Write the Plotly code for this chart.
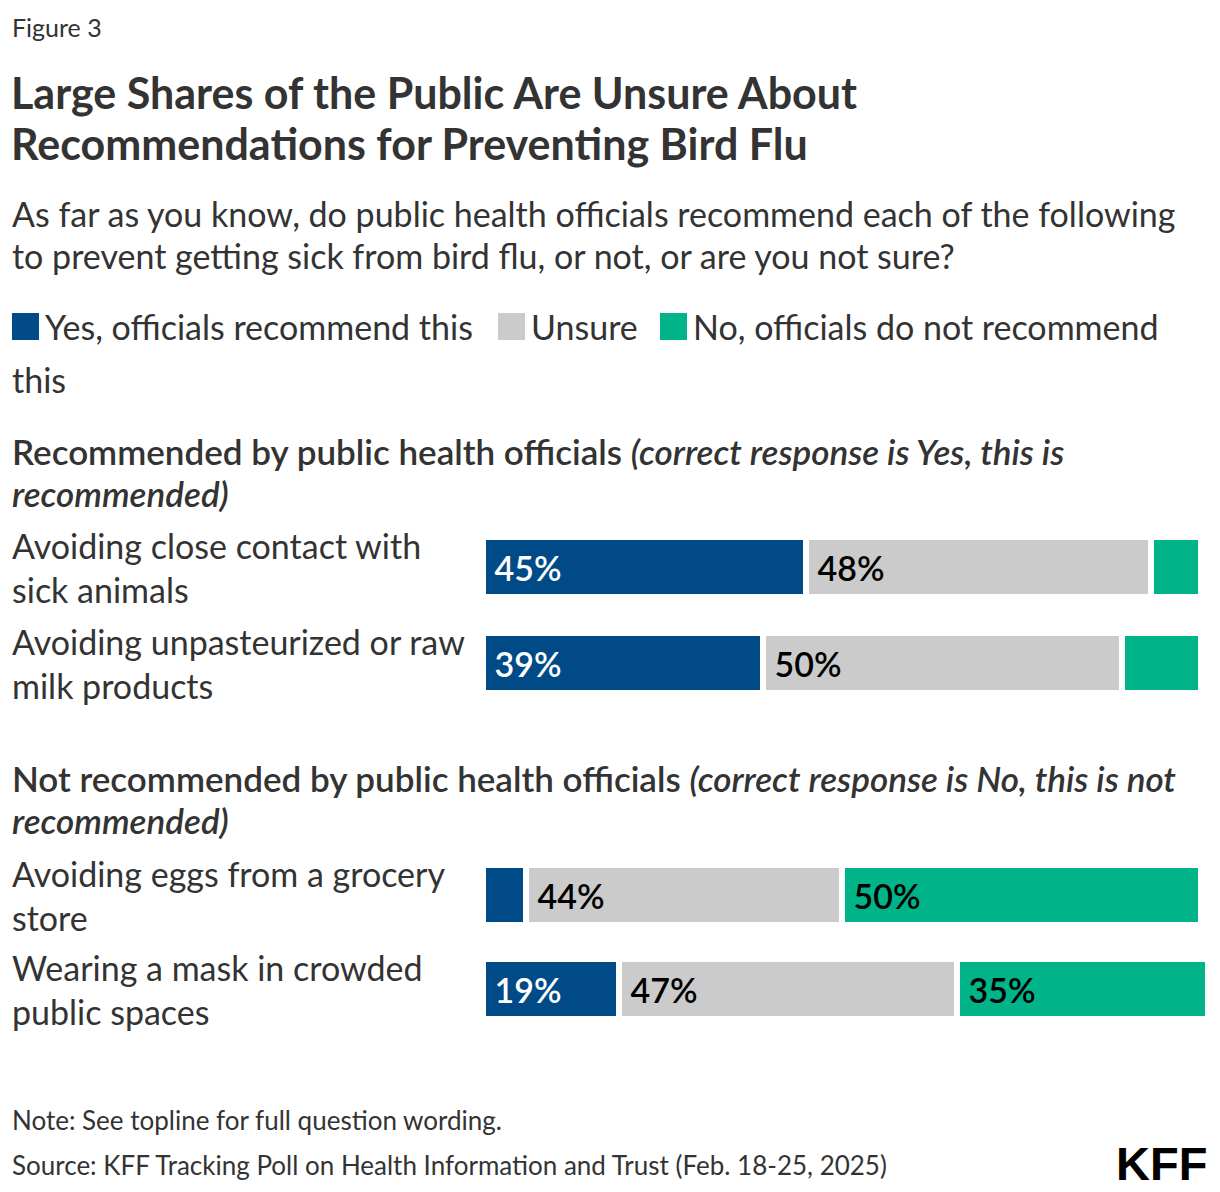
import plotly.graph_objects as go

W, H = 1220, 1192
FONT = "Lato"
TXT = "#333333"

# ---------------- data ----------------
series_names = ["Yes, officials recommend this", "Unsure", "No, officials do not recommend this"]
series_colors = ["#004A87", "#CBCBCB", "#00B388"]
label_colors = ["#FFFFFF", "#000000", "#000000"]

cats_rec = ["Avoiding close contact with<br>sick animals",
            "Avoiding unpasteurized or raw<br>milk products"]
yes_rec = [45, 39]
unsure_rec = [48, 50]
no_rec = [7, 11]

cats_not = ["Avoiding eggs from a grocery<br>store",
            "Wearing a mask in crowded<br>public spaces"]
yes_not = [6, 19]
unsure_not = [44, 47]
no_not = [50, 35]

header_rec = ["Recommended by public health officials <i>(correct response is Yes, this is</i>",
              "<i>recommended)</i>"]
header_not = ["Not recommended by public health officials <i>(correct response is No, this is not</i>",
              "<i>recommended)</i>"]

title_lines = ["<b>Large Shares of the Public Are Unsure About</b>",
               "<b>Recommendations for Preventing Bird Flu</b>"]
subtitle_lines = ["As far as you know, do public health officials recommend each of the following",
                  "to prevent getting sick from bird flu, or not, or are you not sure?"]
note = "Note: See topline for full question wording."
source = "Source: KFF Tracking Poll on Health Information and Trust (Feb. 18-25, 2025)"

MIN_LABEL = 15  # segments narrower than this carry no label


def py(px):
    return 1 - px / H


def pxx(px):
    return px / W


fig = go.Figure()

groups = [
    ("x", "y", cats_rec, [yes_rec, unsure_rec, no_rec], 60 / 96),
    ("x2", "y2", cats_not, [yes_not, unsure_not, no_not], 60 / 94),
]
for xa, ya, cats, vals_list, bw in groups:
    for name, col, lcol, vals in zip(series_names, series_colors, label_colors, vals_list):
        fig.add_trace(go.Bar(
            orientation="h", y=cats, x=vals, name=name, showlegend=False,
            xaxis=xa, yaxis=ya, width=bw,
            marker=dict(color=col, line=dict(color="white", width=6)),
            text=["\u00a0%d%%" % v if v >= MIN_LABEL else "" for v in vals],
            textposition="inside", insidetextanchor="start", textangle=0,
            constraintext="none",
            textfont=dict(family=FONT, size=34, color=lcol, weight=600),
            hoverinfo="skip",
        ))

x0_px, scale = 483, 7.18
xmax = 102
xdom = [pxx(x0_px), pxx(x0_px + xmax * scale)]

annotations = []


def line(txt, x, y, size, weight=None, color=TXT, anchor="left", family=FONT):
    f = dict(family=family, size=size, color=color)
    if weight:
        f["weight"] = weight
    return dict(xref="paper", yref="paper", x=pxx(x), y=py(y), xanchor=anchor,
                yanchor="middle", text=txt, showarrow=False, font=f)


# category labels
for ya, cats in (("y", cats_rec), ("y2", cats_not)):
    for c in cats:
        annotations.append(dict(
            xref="paper", x=pxx(10), yref=ya, y=c, xanchor="left", yanchor="middle",
            align="left", text=c, showarrow=False,
            font=dict(family=FONT, size=34, color=TXT)))

# headers
for lines, y1 in ((header_rec, 451), (header_not, 778)):
    annotations.append(line(lines[0], 10, y1, 35, weight=600))
    annotations.append(line(lines[1], 10, y1 + 42, 35, weight=600))

# title, subtitle
annotations.append(line(title_lines[0], 9, 92, 43))
annotations.append(line(title_lines[1], 9, 143, 43))
annotations.append(line(subtitle_lines[0], 10, 213, 34))
annotations.append(line(subtitle_lines[1], 10, 255, 34))

# figure label, notes, logo
annotations += [
    line("Figure 3", 10, 27, 25),
    line(note, 10, 1120, 26),
    line(source, 10, 1165, 26),
    line("<b>KFF</b>", 1209, 1163, 47, color="#000000", anchor="right", family="Liberation Sans"),
]

# legend (manual, to match large swatches)
shapes = []
legend_x = [12, 498, 660]
legend_row = 326
for name, col, lx in zip(series_names, series_colors, legend_x):
    shapes.append(dict(type="rect", xref="paper", yref="paper",
                       x0=pxx(lx), x1=pxx(lx + 27), y0=py(legend_row + 14), y1=py(legend_row - 13),
                       fillcolor=col, line=dict(width=0)))
    txt = name if name != series_names[2] else "No, officials do not recommend"
    annotations.append(line(txt, lx + 31, legend_row, 34))
annotations.append(line("this", 10, 379, 34))

fig.update_layout(
    width=W, height=H, margin=dict(l=0, r=0, t=0, b=0),
    paper_bgcolor="white", plot_bgcolor="white",
    barmode="stack", bargap=0,
    xaxis=dict(domain=xdom, range=[0, xmax], visible=False, fixedrange=True, anchor="y"),
    xaxis2=dict(domain=xdom, range=[0, xmax], visible=False, fixedrange=True, anchor="y2"),
    yaxis=dict(domain=[py(711), py(519)], type="category", categoryarray=cats_rec,
               range=[1.5, -0.5], visible=False, fixedrange=True, anchor="x"),
    yaxis2=dict(domain=[py(1036), py(848)], type="category", categoryarray=cats_not,
                range=[1.5, -0.5], visible=False, fixedrange=True, anchor="x2"),
    annotations=annotations, shapes=shapes,
    showlegend=False,
)

fig.write_html("out.html")
